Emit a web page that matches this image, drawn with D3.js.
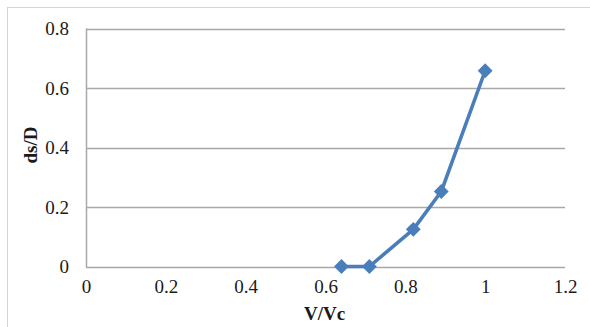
<!DOCTYPE html>
<html><head><meta charset="utf-8">
<script src="https://cdn.jsdelivr.net/npm/d3@7"></script>
<style>body{margin:0;background:#fff}svg{display:block}text{font-family:'Liberation Serif','Times New Roman',serif}</style>
</head><body>
<svg id="c" width="590" height="327"></svg>
<script>
const xVals = [0.64, 0.71, 0.82, 0.89, 1.0];
const yVals = [0, 0, 0.125, 0.252, 0.658];
const xTicks = [0, 0.2, 0.4, 0.6, 0.8, 1, 1.2];
const yTicks = [0, 0.2, 0.4, 0.6, 0.8];
const xLabel = "V/Vc";
const yLabel = "ds/D";

const svg = d3.select("#c");
const m = {l: 86, r: 565, t: 28.5, b: 266.5};
const x = d3.scaleLinear().domain([0, 1.2]).range([m.l, m.r]);
const y = d3.scaleLinear().domain([0, 0.8]).range([m.b, m.t]);
const font = "'Liberation Serif','Times New Roman',serif";

svg.append("rect").attr("x", 7.5).attr("y", 7.5).attr("width", 640).attr("height", 400)
  .attr("fill", "none").attr("stroke", "#d4d4d4").attr("stroke-width", 1);

svg.append("g").selectAll("line").data(yTicks).join("line")
  .attr("x1", m.l).attr("x2", m.r)
  .attr("y1", d => Math.round(y(d)) + 0.5).attr("y2", d => Math.round(y(d)) + 0.5)
  .attr("stroke", "#a8a8a8").attr("stroke-width", 1.5);
svg.append("line").attr("x1", m.l + 0.5).attr("x2", m.l + 0.5)
  .attr("y1", m.t).attr("y2", m.b + 1).attr("stroke", "#a8a8a8").attr("stroke-width", 1.5);

const yAxis = d3.axisLeft(y).tickValues(yTicks).tickSize(0).tickPadding(17).tickFormat(d => String(d));
const gy = svg.append("g").attr("transform", `translate(${m.l},0)`).call(yAxis);
gy.select(".domain").remove();
gy.attr("font-family", null).attr("font-size", null);
gy.selectAll("text").style("font-family", font).style("font-size", "19px").attr("fill", "#1a1a1a");

const xAxis = d3.axisBottom(x).tickValues(xTicks).tickSize(0).tickPadding(13).tickFormat(d => String(d));
const gx = svg.append("g").attr("transform", `translate(0,${m.b})`).call(xAxis);
gx.select(".domain").remove();
gx.attr("font-family", null).attr("font-size", null);
gx.selectAll("text").style("font-family", font).style("font-size", "19px").attr("fill", "#1a1a1a");

svg.append("text").attr("x", (m.l + m.r) / 2 - 1).attr("y", 320).attr("text-anchor", "middle")
  .style("font-family", font).style("font-size", "19px").attr("font-weight", "bold").attr("fill", "#1a1a1a").text(xLabel);
svg.append("text").attr("transform", `translate(37,145) rotate(-90)`).attr("text-anchor", "middle")
  .style("font-family", font).style("font-size", "19px").attr("font-weight", "bold").attr("fill", "#1a1a1a").text(yLabel);

const pts = xVals.map((v, i) => [v, yVals[i]]);
svg.append("path").datum(pts)
  .attr("d", d3.line().x(d => x(d[0])).y(d => y(d[1])))
  .attr("fill", "none").attr("stroke", "#4a7ebb").attr("stroke-width", 3.6).attr("stroke-linejoin", "round");
svg.append("g").selectAll("path").data(pts).join("path")
  .attr("d", d3.symbol().type(d3.symbolDiamond2).size(140))
  .attr("transform", d => `translate(${x(d[0])},${y(d[1])})`)
  .attr("fill", "#4a7ebb");
</script>
</body></html>
